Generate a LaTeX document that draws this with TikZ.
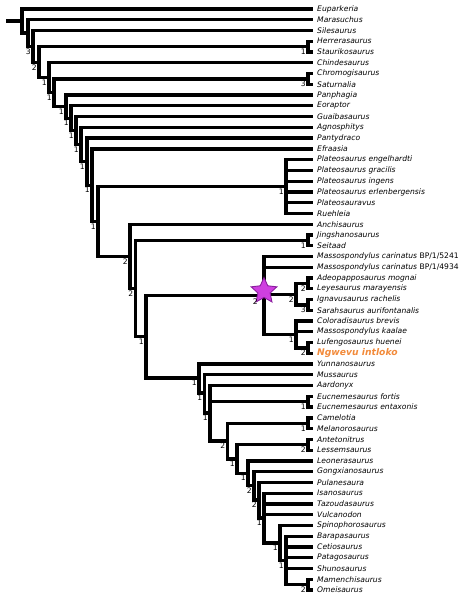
\documentclass[tikz,border=0pt]{standalone}
\usepackage{fontspec}
\setmainfont{DejaVu Sans}
\usetikzlibrary{positioning, shapes.geometric}

\definecolor{starfill}{HTML}{CF3FE0}
\definecolor{stardraw}{HTML}{8A1E9E}
\definecolor{newtaxon}{HTML}{F28A3A}
\newcommand{\newsp}{\color{newtaxon}\bfseries\fontsize{9.2}{10}\selectfont}

\begin{document}
\begin{tikzpicture}[
    x=1pt, y=-1pt,
    branch/.style={line width=3.3pt, line join=miter},
    taxon/.style={
        anchor=west,
        inner sep=0pt,
        font=\fontsize{7.6}{8}\selectfont\itshape
    },
    support/.style={
        anchor=north east,
        inner sep=2pt,
        font=\fontsize{7.6}{8}\selectfont
    },
    marker/.style={
        star, star points=5, star point ratio=2.1,
        minimum size=27pt, inner sep=0pt,
        fill=starfill, draw=stardraw, line width=0.9pt
    }
]
\useasboundingbox (0,0) rectangle (466,599);

% --- Terminal taxa
\foreach \taxname [count=\i] in {
    Euparkeria, Marasuchus, Silesaurus, Herrerasaurus, Staurikosaurus,
    Chindesaurus, Chromogisaurus, Saturnalia, Panphagia, Eoraptor,
    Guaibasaurus, Agnosphitys, Pantydraco, Efraasia,
    Plateosaurus engelhardti, Plateosaurus gracilis, Plateosaurus ingens,
    Plateosaurus erlenbergensis, Plateosauravus, Ruehleia,
    Anchisaurus, Jingshanosaurus, Seitaad,
    {Massospondylus carinatus \textup{BP/1/5241}},
    {Massospondylus carinatus \textup{BP/1/4934}},
    Adeopapposaurus mognai, Leyesaurus marayensis,
    Ignavusaurus rachelis, Sarahsaurus aurifontanalis,
    Coloradisaurus brevis, Massospondylus kaalae, Lufengosaurus huenei,
    {\newsp Ngwevu intloko},
    Yunnanosaurus, Mussaurus, Aardonyx,
    Eucnemesaurus fortis, Eucnemesaurus entaxonis,
    Camelotia, Melanorosaurus, Antetonitrus, Lessemsaurus,
    Leonerasaurus, Gongxianosaurus, Pulanesaura,
    Isanosaurus, Tazoudasaurus, Vulcanodon, Spinophorosaurus,
    Barapasaurus, Cetiosaurus, Patagosaurus, Shunosaurus,
    Mamenchisaurus, Omeisaurus} {
    \coordinate (L\i) at (313, {9+(\i-1)*10.76});
    \node[taxon, right=4pt of L\i] (t\i) {\taxname};
}

% --- Internal nodes
\coordinate (root) at (6, 21);
\coordinate (n1) at (22, 21);
\coordinate (n2) at (28, 33.1);
\coordinate (n3) at (33, 46.4);
\coordinate (n4) at (39, 62.2);
\coordinate (hs) at (308, 46.7);
\coordinate (n5) at (49, 77.8);
\coordinate (n6) at (54, 92.8);
\coordinate (cs) at (308, 79);
\coordinate (n7) at (66, 106.6);
\coordinate (n8) at (71, 118.2);
\coordinate (n9) at (76, 130.5);
\coordinate (n10) at (81, 144.5);
\coordinate (n11) at (87, 161.6);
\coordinate (n12) at (92, 185.2);
\coordinate (n13) at (98, 221.4);
\coordinate (pl) at (286, 186.5);
\coordinate (n14) at (130, 256.4);
\coordinate (n15) at (135.5, 288.5);
\coordinate (js) at (308, 240.4);
\coordinate (n16) at (146, 336.7);
\coordinate (ms) at (264, 295.5);
\coordinate (m1) at (296, 294.2);
\coordinate (al) at (308, 283.4);
\coordinate (ig) at (308, 304.9);
\coordinate (m2) at (296, 334.5);
\coordinate (ln) at (308, 348);
\coordinate (n17) at (199, 378);
\coordinate (n18) at (204.5, 393);
\coordinate (n19) at (210, 413);
\coordinate (eu) at (308, 401.8);
\coordinate (n20) at (227.5, 440.9);
\coordinate (cm) at (308, 423.3);
\coordinate (n21) at (237, 458.9);
\coordinate (an) at (308, 444.8);
\coordinate (n22) at (248, 473.2);
\coordinate (n23) at (254, 485.8);
\coordinate (n24) at (259, 500);
\coordinate (n25) at (264, 518);
\coordinate (n26) at (280, 543);
\coordinate (n27) at (286, 560.6);
\coordinate (mo) at (308, 584.6);

% --- Branches
\draw[branch] (root) -- (n1);
\draw[branch] (n1) |- (L1) (n1) |- (n2);
\draw[branch] (n2) |- (L2) (n2) |- (n3);
\draw[branch] (n3) |- (L3) (n3) |- (n4);
\draw[branch] (n4) |- (hs) (n4) |- (n5);
\draw[branch] (hs) |- (L4) (hs) |- (L5);
\draw[branch] (n5) |- (L6) (n5) |- (n6);
\draw[branch] (n6) |- (cs) (n6) |- (n7);
\draw[branch] (cs) |- (L7) (cs) |- (L8);
\draw[branch] (n7) |- (L9) (n7) |- (n8);
\draw[branch] (n8) |- (L10) (n8) |- (n9);
\draw[branch] (n9) |- (L11) (n9) |- (n10);
\draw[branch] (n10) |- (L12) (n10) |- (n11);
\draw[branch] (n11) |- (L13) (n11) |- (n12);
\draw[branch] (n12) |- (L14) (n12) |- (n13);
\draw[branch] (n13) |- (pl) (n13) |- (n14);
\foreach \k in {15,...,20}
    \draw[branch] (pl) |- (L\k);
\draw[branch] (n14) |- (L21) (n14) |- (n15);
\draw[branch] (n15) |- (js) (n15) |- (n16);
\draw[branch] (js) |- (L22) (js) |- (L23);
\draw[branch] (n16) |- (ms) (n16) |- (n17);
\draw[branch] (ms) |- (L24) (ms) |- (L25) (ms) |- (m1) (ms) |- (m2);
\draw[branch] (m1) |- (al) (m1) |- (ig);
\draw[branch] (al) |- (L26) (al) |- (L27);
\draw[branch] (ig) |- (L28) (ig) |- (L29);
\draw[branch] (m2) |- (L30) (m2) |- (L31) (m2) |- (ln);
\draw[branch] (ln) |- (L32) (ln) |- (L33);
\draw[branch] (n17) |- (L34) (n17) |- (n18);
\draw[branch] (n18) |- (L35) (n18) |- (n19);
\draw[branch] (n19) |- (L36) (n19) |- (eu) (n19) |- (n20);
\draw[branch] (eu) |- (L37) (eu) |- (L38);
\draw[branch] (n20) |- (cm) (n20) |- (n21);
\draw[branch] (cm) |- (L39) (cm) |- (L40);
\draw[branch] (n21) |- (an) (n21) |- (n22);
\draw[branch] (an) |- (L41) (an) |- (L42);
\draw[branch] (n22) |- (L43) (n22) |- (n23);
\draw[branch] (n23) |- (L44) (n23) |- (n24);
\draw[branch] (n24) |- (L45) (n24) |- (n25);
\draw[branch] (n25) |- (L46) (n25) |- (L47) (n25) |- (L48) (n25) |- (n26);
\draw[branch] (n26) |- (L49) (n26) |- (n27);
\foreach \k in {50,...,53}
    \draw[branch] (n27) |- (L\k);
\draw[branch] (n27) |- (mo);
\draw[branch] (mo) |- (L54) (mo) |- (L55);

% --- Star on the Massospondylidae node
\node[marker] (mstar) at (264, 291) {};

% --- Support values
\node[support] (s3) at (n3) {3};
\node[support] (s4) at (n4) {2};
\node[support] (shs) at (hs) {1};
\node[support] (s5) at (n5) {1};
\node[support] (s6) at (n6) {1};
\node[support] (scs) at (cs) {3};
\node[support] (s7) at (n7) {1};
\node[support] (s8) at (n8) {1};
\node[support] (s9) at (n9) {1};
\node[support] (s10) at (n10) {1};
\node[support] (s11) at (n11) {1};
\node[support] (s12) at (n12) {1};
\node[support] (s13) at (n13) {1};
\node[support] (spl) at (pl) {1};
\node[support] (s14) at (n14) {2};
\node[support] (s15) at (n15) {2};
\node[support] (sjs) at (js) {1};
\node[support] (s16) at (n16) {1};
\node[support, xshift=-4pt, yshift=-1.5pt] (sms) at (ms) {2};
\node[support] (sm1) at (m1) {2};
\node[support] (sal) at (al) {2};
\node[support] (sig) at (ig) {3};
\node[support] (sm2) at (m2) {1};
\node[support] (sln) at (ln) {2};
\node[support] (s17) at (n17) {1};
\node[support] (s18) at (n18) {1};
\node[support] (s19) at (n19) {1};
\node[support] (seu) at (eu) {1};
\node[support] (s20) at (n20) {2};
\node[support] (scm) at (cm) {1};
\node[support] (s21) at (n21) {1};
\node[support] (san) at (an) {2};
\node[support] (s22) at (n22) {1};
\node[support] (s23) at (n23) {2};
\node[support] (s24) at (n24) {2};
\node[support] (s25) at (n25) {1};
\node[support] (s26) at (n26) {1};
\node[support] (s27) at (n27) {1};
\node[support] (smo) at (mo) {2};

\end{tikzpicture}
\end{document}
